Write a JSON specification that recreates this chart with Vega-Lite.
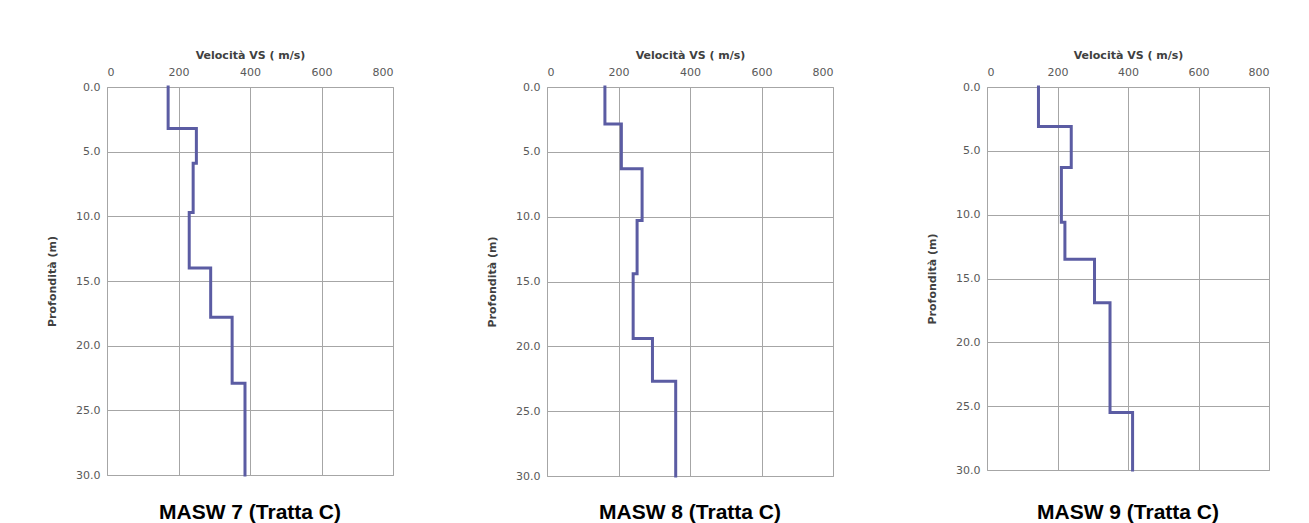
{
  "$schema": "https://vega.github.io/schema/vega-lite/v6.json",
  "background": "white",
  "padding": {"left": 46, "top": 48, "right": 5, "bottom": 0},
  "bounds": "flush",
  "spacing": 154,
  "datasets": {
    "m7": [
      {"i": 1, "vs": 171, "depth": 0},
      {"i": 2, "vs": 171, "depth": 3.2},
      {"i": 3, "vs": 250, "depth": 3.2},
      {"i": 4, "vs": 250, "depth": 5.9},
      {"i": 5, "vs": 241, "depth": 5.9},
      {"i": 6, "vs": 241, "depth": 9.7},
      {"i": 7, "vs": 230, "depth": 9.7},
      {"i": 8, "vs": 230, "depth": 14.0},
      {"i": 9, "vs": 290, "depth": 14.0},
      {"i": 10, "vs": 290, "depth": 17.8},
      {"i": 11, "vs": 350, "depth": 17.8},
      {"i": 12, "vs": 350, "depth": 22.9},
      {"i": 13, "vs": 386, "depth": 22.9},
      {"i": 14, "vs": 386, "depth": 30}
    ],
    "m8": [
      {"i": 1, "vs": 162, "depth": 0},
      {"i": 2, "vs": 162, "depth": 2.85},
      {"i": 3, "vs": 208, "depth": 2.85},
      {"i": 4, "vs": 208, "depth": 6.3},
      {"i": 5, "vs": 266, "depth": 6.3},
      {"i": 6, "vs": 266, "depth": 10.3},
      {"i": 7, "vs": 252, "depth": 10.3},
      {"i": 8, "vs": 252, "depth": 14.4},
      {"i": 9, "vs": 241, "depth": 14.4},
      {"i": 10, "vs": 241, "depth": 19.4},
      {"i": 11, "vs": 295, "depth": 19.4},
      {"i": 12, "vs": 295, "depth": 22.7},
      {"i": 13, "vs": 360, "depth": 22.7},
      {"i": 14, "vs": 360, "depth": 30}
    ],
    "m9": [
      {"i": 1, "vs": 146, "depth": 0},
      {"i": 2, "vs": 146, "depth": 3.1},
      {"i": 3, "vs": 239, "depth": 3.1},
      {"i": 4, "vs": 239, "depth": 6.3},
      {"i": 5, "vs": 211, "depth": 6.3},
      {"i": 6, "vs": 211, "depth": 10.6},
      {"i": 7, "vs": 221, "depth": 10.6},
      {"i": 8, "vs": 221, "depth": 13.5},
      {"i": 9, "vs": 305, "depth": 13.5},
      {"i": 10, "vs": 305, "depth": 16.9},
      {"i": 11, "vs": 349, "depth": 16.9},
      {"i": 12, "vs": 349, "depth": 25.5},
      {"i": 13, "vs": 413, "depth": 25.5},
      {"i": 14, "vs": 413, "depth": 30}
    ]
  },
  "hconcat": [
    {
      "width": 286, "height": 388,
      "title": {"text": "MASW 7 (Tratta C)"},
      "data": {"name": "m7"},
      "mark": {"type": "line", "color": "#5b5ca3", "strokeWidth": 3, "strokeCap": "square", "strokeJoin": "miter"},
      "encoding": {
        "x": {"field": "vs", "type": "quantitative", "scale": {"domain": [0, 800], "nice": false, "zero": true},
              "axis": {"orient": "top", "values": [0, 200, 400, 600, 800], "title": "Velocità VS ( m/s)"}},
        "y": {"field": "depth", "type": "quantitative", "scale": {"domain": [0, 30], "reverse": true, "nice": false},
              "axis": {"values": [0, 5, 10, 15, 20, 25, 30], "format": ".1f", "title": "Profondità (m)"}},
        "order": {"field": "i", "type": "quantitative"}
      }
    },
    {
      "width": 286, "height": 389,
      "title": {"text": "MASW 8 (Tratta C)", "offset": 20},
      "data": {"name": "m8"},
      "mark": {"type": "line", "color": "#5b5ca3", "strokeWidth": 3, "strokeCap": "square", "strokeJoin": "miter"},
      "encoding": {
        "x": {"field": "vs", "type": "quantitative", "scale": {"domain": [0, 800], "nice": false, "zero": true},
              "axis": {"orient": "top", "values": [0, 200, 400, 600, 800], "title": "Velocità VS ( m/s)"}},
        "y": {"field": "depth", "type": "quantitative", "scale": {"domain": [0, 30], "reverse": true, "nice": false},
              "axis": {"values": [0, 5, 10, 15, 20, 25, 30], "format": ".1f", "title": "Profondità (m)"}},
        "order": {"field": "i", "type": "quantitative"}
      }
    },
    {
      "width": 282, "height": 383,
      "title": {"text": "MASW 9 (Tratta C)", "offset": 26},
      "data": {"name": "m9"},
      "mark": {"type": "line", "color": "#5b5ca3", "strokeWidth": 3, "strokeCap": "square", "strokeJoin": "miter"},
      "encoding": {
        "x": {"field": "vs", "type": "quantitative", "scale": {"domain": [0, 800], "nice": false, "zero": true},
              "axis": {"orient": "top", "values": [0, 200, 400, 600, 800], "title": "Velocità VS ( m/s)"}},
        "y": {"field": "depth", "type": "quantitative", "scale": {"domain": [0, 30], "reverse": true, "nice": false},
              "axis": {"values": [0, 5, 10, 15, 20, 25, 30], "format": ".1f", "title": "Profondità (m)"}},
        "order": {"field": "i", "type": "quantitative"}
      }
    }
  ],
  "config": {
    "view": {"stroke": "#a6a6a6", "strokeWidth": 1},
    "axis": {
      "domain": false, "ticks": false, "grid": true, "gridColor": "#a6a6a6", "gridWidth": 1, "gridOpacity": 1,
      "labelFont": "DejaVu Sans", "labelFontSize": 11, "labelColor": "#595959",
      "titleFont": "DejaVu Sans", "titleFontSize": 11, "titleFontWeight": "bold", "titleColor": "#404040"
    },
    "axisX": {"labelPadding": 10, "titlePadding": 6},
    "axisY": {"labelPadding": 7, "titlePadding": 18},
    "title": {"orient": "bottom", "anchor": "middle", "font": "Liberation Sans", "fontSize": 21, "fontWeight": "bold", "color": "black", "offset": 21}
  }
}
